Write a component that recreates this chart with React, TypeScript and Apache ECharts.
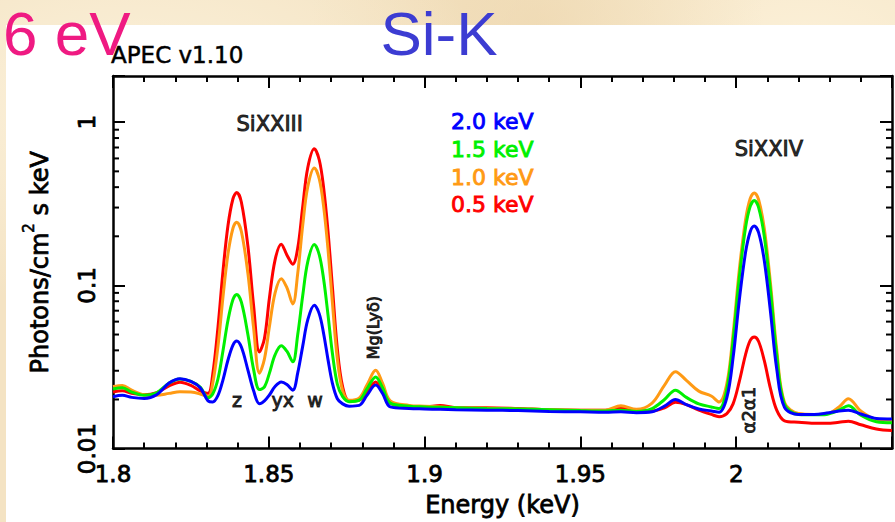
import React, { useEffect, useRef } from 'react';
import * as echarts from 'echarts';

// Energy grid (keV)
const energies = [
  1.800, 1.803, 1.806, 1.810, 1.814, 1.818, 1.8215, 1.825, 1.828, 1.8305,
  1.832, 1.8337, 1.8353, 1.8369, 1.8385, 1.8397, 1.8412, 1.8433, 1.8451, 1.8470,
  1.8486, 1.8502, 1.8520, 1.8540, 1.8558, 1.8577, 1.8593, 1.8609, 1.8625, 1.8646,
  1.8662, 1.8676, 1.8690, 1.8704, 1.8720, 1.8737, 1.8758, 1.8790, 1.8815, 1.8843,
  1.8865, 1.8890, 1.8950, 1.9000, 1.9050, 1.9100, 1.9200, 1.9300, 1.9400, 1.9500,
  1.9580, 1.9630, 1.9680, 1.9730, 1.9770, 1.9805, 1.9840, 1.9880, 1.9920, 1.9945,
  1.9970, 1.9990, 2.0010, 2.0030, 2.0045, 2.0058, 2.0072, 2.0090, 2.0110, 2.0130,
  2.0155, 2.0200, 2.0250, 2.0290, 2.0330, 2.0360, 2.0400, 2.0450, 2.0500,
];

// 0.5 keV (red)
const flux05 = [
  0.0222, 0.0226, 0.0218, 0.0214, 0.0220, 0.0242, 0.0255, 0.0244, 0.0226, 0.0218,
  0.0285, 0.0557, 0.1224, 0.2328, 0.3397, 0.3705, 0.3236, 0.1738, 0.0760, 0.0391,
  0.0473, 0.0837, 0.1430, 0.1790, 0.1538, 0.1350, 0.1700, 0.3060, 0.5257, 0.6870,
  0.5868, 0.3960, 0.2146, 0.0985, 0.0408, 0.0239, 0.0196, 0.0198, 0.0222, 0.0256,
  0.0225, 0.0190, 0.0182, 0.0180, 0.0184, 0.0178, 0.0178, 0.0176, 0.0173, 0.0172,
  0.0172, 0.0178, 0.0171, 0.0170, 0.0178, 0.0192, 0.0186, 0.0172, 0.0162, 0.0157,
  0.0164, 0.0188, 0.0258, 0.0377, 0.0460, 0.0483, 0.0453, 0.0347, 0.0233, 0.0172,
  0.0148, 0.0145, 0.0143, 0.0143, 0.0145, 0.0147, 0.0140, 0.0132, 0.0129,
];

// 1.0 keV (orange)
const flux10 = [
  0.0240, 0.0244, 0.0228, 0.0214, 0.0212, 0.0218, 0.0223, 0.0222, 0.0216, 0.0208,
  0.0251, 0.0426, 0.0852, 0.1560, 0.2240, 0.2440, 0.2140, 0.1180, 0.0555, 0.0290,
  0.0354, 0.0560, 0.0898, 0.1100, 0.0968, 0.0770, 0.1193, 0.2350, 0.4020, 0.5250,
  0.4490, 0.3040, 0.1670, 0.0791, 0.0354, 0.0226, 0.0198, 0.0204, 0.0245, 0.0302,
  0.0252, 0.0196, 0.0184, 0.0182, 0.0180, 0.0178, 0.0177, 0.0175, 0.0173, 0.0172,
  0.0172, 0.0183, 0.0174, 0.0190, 0.0245, 0.0296, 0.0262, 0.0225, 0.0210, 0.0193,
  0.0250, 0.0505, 0.1250, 0.2520, 0.3410, 0.3690, 0.3350, 0.2240, 0.1030, 0.0405,
  0.0192, 0.0164, 0.0162, 0.0163, 0.0180, 0.0202, 0.0170, 0.0151, 0.0149,
];

// 1.5 keV (green)
const flux15 = [
  0.0232, 0.0236, 0.0222, 0.0212, 0.0220, 0.0252, 0.0267, 0.0258, 0.0238, 0.0205,
  0.0216, 0.0268, 0.0398, 0.0612, 0.0820, 0.0880, 0.0789, 0.0498, 0.0307, 0.0230,
  0.0239, 0.0290, 0.0375, 0.0427, 0.0395, 0.0340, 0.0502, 0.0870, 0.1395, 0.1780,
  0.1541, 0.1090, 0.0660, 0.0385, 0.0248, 0.0208, 0.0194, 0.0198, 0.0232, 0.0275,
  0.0236, 0.0190, 0.0182, 0.0180, 0.0179, 0.0178, 0.0176, 0.0175, 0.0173, 0.0171,
  0.0170, 0.0172, 0.0169, 0.0176, 0.0200, 0.0228, 0.0206, 0.0188, 0.0180, 0.0176,
  0.0232, 0.0459, 0.1120, 0.2260, 0.3050, 0.3310, 0.3000, 0.2010, 0.0934, 0.0376,
  0.0187, 0.0162, 0.0161, 0.0162, 0.0172, 0.0183, 0.0160, 0.0146, 0.0144,
];

// 2.0 keV (blue)
const flux20 = [
  0.0208, 0.0212, 0.0206, 0.0203, 0.0214, 0.0252, 0.0268, 0.0258, 0.0236, 0.0196,
  0.0193, 0.0212, 0.0264, 0.0349, 0.0431, 0.0457, 0.0419, 0.0303, 0.0227, 0.0188,
  0.0196, 0.0213, 0.0240, 0.0256, 0.0247, 0.0228, 0.0292, 0.0426, 0.0615, 0.0755,
  0.0669, 0.0506, 0.0351, 0.0252, 0.0202, 0.0188, 0.0182, 0.0184, 0.0212, 0.0245,
  0.0218, 0.0180, 0.0176, 0.0175, 0.0174, 0.0173, 0.0172, 0.0171, 0.0169, 0.0168,
  0.0167, 0.0168, 0.0166, 0.0168, 0.0182, 0.0200, 0.0186, 0.0175, 0.0170, 0.0167,
  0.0205, 0.0361, 0.0814, 0.1595, 0.2135, 0.2310, 0.2105, 0.1426, 0.0690, 0.0308,
  0.0179, 0.0162, 0.0162, 0.0165, 0.0170, 0.0172, 0.0163, 0.0153, 0.0152,
];

const seriesNames = ['0.5 keV', '1.0 keV', '1.5 keV', '2.0 keV'];
const seriesColors = ['#ff0000', '#ff9a14', '#00f000', '#0000ff'];
const seriesData = [flux05, flux10, flux15, flux20];
const legendOrder = ['2.0 keV', '1.5 keV', '1.0 keV', '0.5 keV'];

const X_MIN = 1.8;
const X_MAX = 2.05;
const X_STEP = 0.05;
const Y_MIN = 0.01;
const Y_MAX = 1.92;
const yMinorTicks = [0.02, 0.03, 0.04, 0.05, 0.06, 0.07, 0.08, 0.09, 0.2, 0.3, 0.4, 0.5, 0.6, 0.7, 0.8, 0.9];

// Line identifications
const annotationTexts = ['SiXXIII', 'SiXXIV', 'z', 'yx', 'w', 'Mg(Lyδ)', 'α2α1'];
const annotationE = [1.8503, 2.0105, 1.8398, 1.8545, 1.8648, 1.8837, 2.0038];
const annotationV = [0.975, 0.687, 0.0198, 0.0198, 0.0198, 0.0551, 0.0172];
const annotationRotate = [0, 0, 0, 0, 0, 90, 90];
const annotationSize = [21, 21, 19, 19, 19, 16, 18];

const FONT = '"DejaVu Sans", Verdana, sans-serif';
const TITLE_FONT = '"Liberation Sans", Arial, sans-serif';

function buildOption(): any {
  const axisLineStyle = { color: '#000', width: 2.5 };
  const tickStyle = { color: '#000', width: 2 };
  const xFormatter = (v: number) => (v > X_MAX - 0.01 ? '' : String(Number(v.toFixed(2))));
  const yFormatter = (v: number) => {
    const l = Math.log10(v);
    return Math.abs(l - Math.round(l)) < 1e-6 ? String(Number(v.toPrecision(3))) : '';
  };

  const lineSeries = seriesNames.map((name, i) => ({
    name,
    type: 'line',
    xAxisIndex: 0,
    yAxisIndex: 0,
    data: energies.map((e, k) => [e, seriesData[i][k]]),
    symbol: 'none',
    smooth: 0.35,
    lineStyle: { color: seriesColors[i], width: 3 },
    itemStyle: { color: seriesColors[i] },
    z: 5 + i,
  }));

  return {
    animation: false,
    backgroundColor: 'transparent',
    grid: { left: 113, right: 1, top: 76, bottom: 73, containLabel: false },
    legend: {
      orient: 'vertical',
      left: 441,
      top: 104.5,
      itemWidth: 0,
      itemHeight: 24,
      itemGap: 4.3,
      icon: 'none',
      selectedMode: false,
      data: legendOrder.map((n) => {
        const c = seriesColors[seriesNames.indexOf(n)];
        return {
          name: n,
          textStyle: { color: c, textBorderColor: c, textBorderWidth: 0.9 },
        };
      }),
      textStyle: { fontFamily: FONT, fontSize: 22, padding: 0 },
    },
    xAxis: [
      {
        type: 'value',
        min: X_MIN,
        max: X_MAX,
        interval: X_STEP,
        position: 'bottom',
        axisLine: { show: true, onZero: false, lineStyle: axisLineStyle },
        axisTick: { show: true, inside: true, length: 12, lineStyle: tickStyle },
        minorTick: { show: true, splitNumber: 5, length: 6, lineStyle: tickStyle },
        splitLine: { show: false },
        axisLabel: {
          formatter: xFormatter,
          color: '#000',
          fontFamily: FONT,
          fontSize: 23,
          margin: 14,
          textBorderColor: '#000',
          textBorderWidth: 0.8,
        },
        name: 'Energy (keV)',
        nameLocation: 'middle',
        nameGap: 44,
        nameTextStyle: {
          color: '#000',
          fontFamily: FONT,
          fontSize: 24,
          textBorderColor: '#000',
          textBorderWidth: 0.8,
        },
      },
      {
        type: 'value',
        min: X_MIN,
        max: X_MAX,
        interval: X_STEP,
        position: 'top',
        axisLine: { show: true, onZero: false, lineStyle: axisLineStyle },
        axisTick: { show: true, inside: true, length: 12, lineStyle: tickStyle },
        minorTick: { show: true, splitNumber: 5, length: 6, lineStyle: tickStyle },
        splitLine: { show: false },
        axisLabel: { show: false },
      },
    ],
    yAxis: [
      {
        type: 'log',
        logBase: 10,
        min: Y_MIN,
        max: Y_MAX,
        position: 'left',
        axisLine: { show: true, onZero: false, lineStyle: axisLineStyle },
        axisTick: { show: true, inside: true, length: 12, lineStyle: tickStyle },
        splitLine: { show: false },
        axisLabel: {
          rotate: 90,
          formatter: yFormatter,
          color: '#000',
          fontFamily: FONT,
          fontSize: 23,
          margin: 15,
          textBorderColor: '#000',
          textBorderWidth: 0.8,
        },
        name: 'Photons/cm{sup|2} s keV',
        nameLocation: 'middle',
        nameGap: 55,
        nameTextStyle: {
          color: '#000',
          fontFamily: FONT,
          fontSize: 24,
          textBorderColor: '#000',
          textBorderWidth: 0.8,
          rich: {
            sup: {
              fontFamily: FONT,
              fontSize: 15,
              color: '#000',
              textBorderColor: '#000',
              textBorderWidth: 0.6,
              verticalAlign: 'top',
              padding: [0, 0, 22, 0],
            },
          },
        },
      },
      {
        type: 'log',
        logBase: 10,
        min: Y_MIN,
        max: Y_MAX,
        position: 'right',
        axisLine: { show: true, onZero: false, lineStyle: axisLineStyle },
        axisTick: { show: true, inside: true, length: 12, lineStyle: tickStyle },
        splitLine: { show: false },
        axisLabel: { show: false },
      },
    ],
    graphic: [
      {
        type: 'text',
        x: 3,
        y: 33.5,
        z: 100,
        style: {
          text: '6 eV',
          fill: '#ef1a82',
          font: `62px ${TITLE_FONT}`,
          textAlign: 'left',
          align: 'left',
          textVerticalAlign: 'middle',
          verticalAlign: 'middle',
        },
      },
      {
        type: 'text',
        x: 439,
        y: 33.5,
        z: 100,
        style: {
          text: 'Si-K',
          fill: '#3c3cd2',
          font: `62px ${TITLE_FONT}`,
          textAlign: 'center',
          align: 'center',
          textVerticalAlign: 'middle',
          verticalAlign: 'middle',
        },
      },
      {
        type: 'text',
        x: 111,
        y: 55,
        z: 101,
        style: {
          text: 'APEC v1.10',
          fill: '#000',
          font: `23px ${FONT}`,
          stroke: '#000',
          lineWidth: 0.5,
          textAlign: 'left',
          align: 'left',
          textVerticalAlign: 'middle',
          verticalAlign: 'middle',
        },
      },
    ],
    series: [
      ...lineSeries,
      {
        name: 'annotations',
        type: 'scatter',
        xAxisIndex: 0,
        yAxisIndex: 0,
        symbol: 'circle',
        symbolSize: 1,
        itemStyle: { color: 'rgba(0,0,0,0)' },
        silent: true,
        z: 20,
        data: annotationTexts.map((t, i) => ({
          name: t,
          value: [annotationE[i], annotationV[i]],
          label: {
            show: true,
            position: 'inside',
            formatter: '{b}',
            rotate: annotationRotate[i],
            fontSize: annotationSize[i],
            fontFamily: FONT,
            color: '#000',
            textBorderColor: '#000',
            textBorderWidth: 1,
            align: 'center',
            verticalAlign: 'middle',
          },
        })),
      },
      {
        name: 'minorLogTicks',
        type: 'custom',
        xAxisIndex: 0,
        yAxisIndex: 0,
        silent: true,
        clip: false,
        z: 30,
        data: yMinorTicks.map((v) => [X_MIN, v]),
        renderItem: (_params: any, api: any) => {
          const v = api.value(1);
          const l = api.coord([X_MIN, v]);
          const r = api.coord([X_MAX, v]);
          return {
            type: 'group',
            children: [
              {
                type: 'line',
                shape: { x1: l[0], y1: l[1], x2: l[0] + 6, y2: l[1] },
                style: { stroke: '#000', lineWidth: 2 },
              },
              {
                type: 'line',
                shape: { x1: r[0] - 6, y1: r[1], x2: r[0], y2: r[1] },
                style: { stroke: '#000', lineWidth: 2 },
              },
            ],
          };
        },
      },
    ],
  };
}

export default function App() {
  const ref = useRef<HTMLDivElement>(null);
  useEffect(() => {
    if (!ref.current) return;
    const chart = echarts.init(ref.current, undefined, { renderer: 'svg' });
    chart.setOption(buildOption());
    return () => chart.dispose();
  }, []);
  return (
    <div
      style={{
        position: 'fixed',
        left: 0,
        top: 0,
        width: 895,
        height: 522,
        overflow: 'hidden',
        background:
          'radial-gradient(ellipse at 15% 20%, rgba(255,248,230,0.7), rgba(255,248,230,0) 35%),' +
          'radial-gradient(ellipse at 60% 5%, rgba(236,212,170,0.6), rgba(236,212,170,0) 30%),' +
          'radial-gradient(ellipse at 90% 10%, rgba(255,246,225,0.7), rgba(255,246,225,0) 30%),' +
          '#f4e3c3',
      }}
    >
      <div style={{ position: 'absolute', left: 6, top: 25, right: 0, bottom: 0, background: '#ffffff' }} />
      <div ref={ref} style={{ position: 'absolute', left: 0, top: 0, width: 895, height: 522 }} />
    </div>
  );
}
